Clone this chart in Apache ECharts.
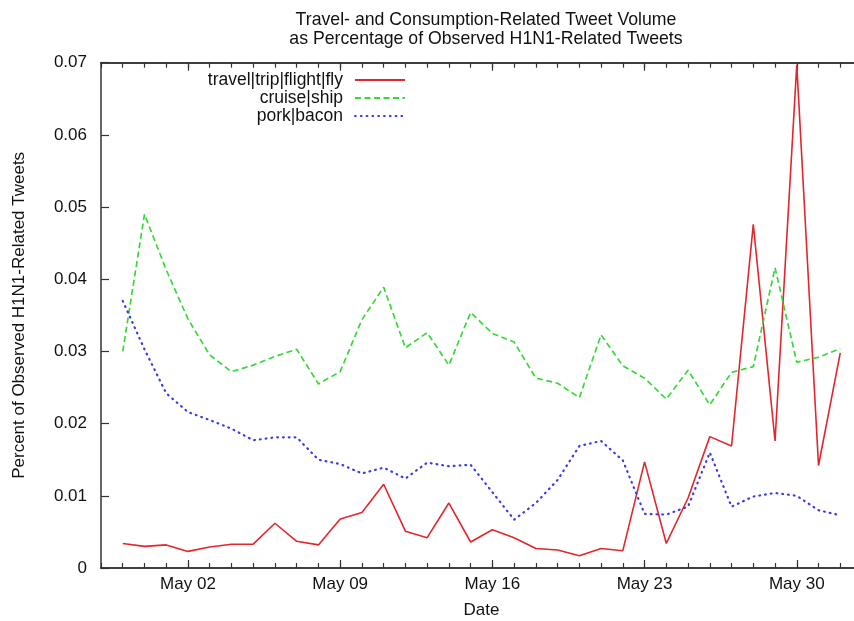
<!DOCTYPE html>
<html>
<head>
<meta charset="utf-8">
<script src="https://cdn.jsdelivr.net/npm/echarts@6/dist/echarts.min.js"></script>
<style>html,body{margin:0;padding:0;background:#fff}#c{width:854px;height:621px}</style>
</head>
<body>
<div id="c"></div>
<script>
// Axis categories: every day from Apr 28 to Jun 02 (2009)
const axisDays = ['Apr 28','Apr 29','Apr 30','May 01','May 02','May 03','May 04','May 05','May 06','May 07','May 08','May 09','May 10','May 11','May 12','May 13','May 14','May 15','May 16','May 17','May 18','May 19','May 20','May 21','May 22','May 23','May 24','May 25','May 26','May 27','May 28','May 29','May 30','May 31','Jun 01','Jun 02'];
const majorLabels = ['May 02','May 09','May 16','May 23','May 30'];
// Observation dates (Apr 29 .. Jun 01)
const dates = ['Apr 29','Apr 30','May 01','May 02','May 03','May 04','May 05','May 06','May 07','May 08','May 09','May 10','May 11','May 12','May 13','May 14','May 15','May 16','May 17','May 18','May 19','May 20','May 21','May 22','May 23','May 24','May 25','May 26','May 27','May 28','May 29','May 30','May 31','Jun 01'];
const travel = [0.0034,0.0030,0.0032,0.0023,0.0029,0.0033,0.0033,0.0062,0.0037,0.0032,0.0068,0.0077,0.0116,0.0051,0.0042,0.0090,0.0036,0.0053,0.0042,0.0027,0.0025,0.0017,0.0027,0.0024,0.0147,0.0034,0.0097,0.0182,0.0169,0.0476,0.0176,0.0697,0.0142,0.0298];
const cruise = [0.0300,0.0490,0.0413,0.0345,0.0295,0.0272,0.0281,0.0293,0.0303,0.0255,0.0272,0.0344,0.0389,0.0305,0.0326,0.0281,0.0354,0.0325,0.0313,0.0263,0.0256,0.0236,0.0323,0.0280,0.0263,0.0234,0.0274,0.0226,0.0271,0.0279,0.0416,0.0285,0.0292,0.0304];
const pork = [0.0370,0.0303,0.0242,0.0216,0.0205,0.0193,0.0177,0.0181,0.0181,0.0150,0.0144,0.0131,0.0139,0.0124,0.0146,0.0141,0.0143,0.0105,0.0067,0.0090,0.0122,0.0169,0.0176,0.0149,0.0075,0.0074,0.0085,0.0160,0.0085,0.0099,0.0104,0.0100,0.0080,0.0073];
const yTicks = [0, 0.01, 0.02, 0.03, 0.04, 0.05, 0.06, 0.07];

const FONT = 'Liberation Sans';
const AX = '#333';
const isMajor = (i) => majorLabels.indexOf(axisDays[i]) >= 0;

function xAx(pos, major) {
  return {
    type: 'category', data: axisDays, boundaryGap: false, position: pos,
    axisLine: { show: true, lineStyle: { color: AX, width: 1.5 } },
    axisTick: { show: true, inside: true, length: major ? 8 : 5,
      interval: major ? ((i) => isMajor(i)) : 0,
      lineStyle: { color: AX, width: 1.2 } },
    axisLabel: { show: pos === 'bottom' && major, interval: (i) => isMajor(i),
      fontFamily: FONT, fontSize: 17, color: '#111', margin: 8 },
    splitLine: { show: false },
    name: (pos === 'bottom' && major) ? 'Date' : '',
    nameLocation: 'middle', nameGap: 34,
    nameTextStyle: { fontFamily: FONT, fontSize: 17, color: '#111' }
  };
}
function yAx(pos) {
  return {
    type: 'value', min: 0, max: 0.07, interval: 0.01, position: pos,
    axisLine: { show: true, lineStyle: { color: AX, width: 1.5 } },
    axisTick: { show: true, inside: true, length: 8, lineStyle: { color: AX, width: 1.2 } },
    axisLabel: { show: pos === 'left', fontFamily: FONT, fontSize: 17, color: '#111', margin: 14,
      formatter: (v) => { const t = yTicks.find(x => Math.abs(x - v) < 1e-9); return t === 0 ? '0' : (t !== undefined ? t.toFixed(2) : v.toFixed(2)); } },
    splitLine: { show: false },
    name: pos === 'left' ? 'Percent of Observed H1N1-Related Tweets' : '',
    nameLocation: 'middle', nameGap: 73,
    nameTextStyle: { fontFamily: FONT, fontSize: 17, color: '#111' }
  };
}

const chart = echarts.init(document.getElementById('c'), null, { renderer: 'canvas' });
chart.setOption({
  backgroundColor: '#fff',
  animation: false,
  title: {
    text: 'Travel- and Consumption-Related Tweet Volume\nas Percentage of Observed H1N1-Related Tweets',
    left: 481, top: 6, textAlign: 'center',
    textStyle: { fontFamily: FONT, fontSize: 17.7, fontWeight: 'normal', color: '#111', lineHeight: 19 }
  },
  legend: {
    orient: 'vertical', left: 198, top: 66, align: 'right',
    itemWidth: 50, itemHeight: 14, itemGap: 0,
    itemStyle: { opacity: 0 },
    textStyle: { fontFamily: FONT, fontSize: 17.5, color: '#111', width: 140, align: 'right', lineHeight: 18, padding: [0, 7, 0, 0] },
    data: ['travel|trip|flight|fly', 'cruise|ship', 'pork|bacon']
  },
  grid: { left: 101, width: 761, top: 62.7, bottom: 53, containLabel: false, outerBoundsMode: 'none' },
  xAxis: [xAx('bottom', false), xAx('bottom', true), xAx('top', false), xAx('top', true)],
  yAxis: [yAx('left'), yAx('right')],
  series: [
    { name: 'travel|trip|flight|fly', type: 'line', symbol: 'none', xAxisIndex: 0, yAxisIndex: 0,
      lineStyle: { color: '#e3262b', width: 1.6 }, itemStyle: { color: '#e3262b' },
      data: dates.map((d, i) => [d, travel[i]]) },
    { name: 'cruise|ship', type: 'line', symbol: 'none', xAxisIndex: 0, yAxisIndex: 0,
      lineStyle: { color: '#38d838', width: 1.7, type: [6, 3.5] }, itemStyle: { color: '#38d838' },
      data: dates.map((d, i) => [d, cruise[i]]) },
    { name: 'pork|bacon', type: 'line', symbol: 'none', xAxisIndex: 0, yAxisIndex: 0,
      lineStyle: { color: '#3b3be6', width: 2.2, type: [0.8, 5], cap: 'round' }, itemStyle: { color: '#3b3be6' },
      data: dates.map((d, i) => [d, pork[i]]) }
  ]
});
</script>
</body>
</html>
